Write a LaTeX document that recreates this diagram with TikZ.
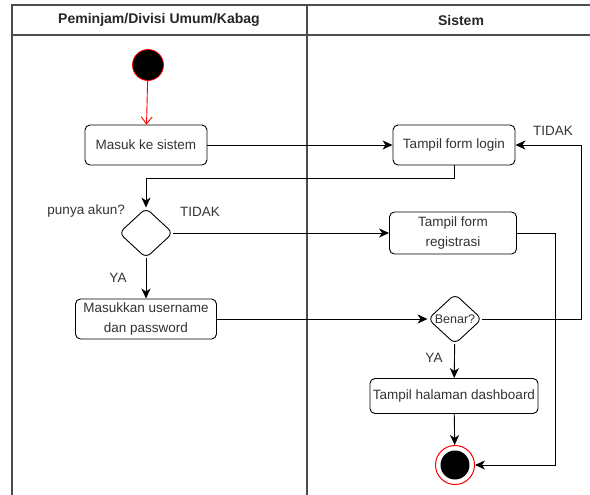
\documentclass[tikz,border=0pt]{standalone}
\usepackage{fontspec}
\setmainfont{Liberation Sans}
\usetikzlibrary{arrows.meta, shapes.geometric, positioning}

\tikzset{
    action/.style={draw, rounded corners=5pt, line width=0.9pt, fill=white,
        text=black!80, font=\fontsize{13.5}{20}\selectfont, align=center, inner sep=2pt},
    decision/.style={draw, diamond, rounded corners=6pt, line width=0.9pt, fill=white,
        inner sep=0pt, minimum width=54pt, minimum height=50pt},
    flow/.style={line width=0.9pt, -{Stealth[length=10pt, width=9pt, inset=3pt]}},
    tag/.style={text=black!80, font=\fontsize{13.5}{16}\selectfont, inner sep=1pt},
    lane/.style={draw=black!70, line width=1.4pt}
}

\begin{document}
\begin{tikzpicture}[x=1pt, y=-1pt]
    \useasboundingbox (0,0) rectangle (590,495);

    % Swimlanes
    \draw[lane] (12,495) -- (12,5) -- (600,5);
    \draw[lane] (12,35) -- (600,35);
    \draw[lane] (307,5) -- (307,495);
    \node[font=\bfseries\fontsize{14}{16}\selectfont, text=black!85] (laneA) at (159,20) {Peminjam/Divisi Umum/Kabag};
    \node[font=\bfseries\fontsize{14}{16}\selectfont, text=black!85] (laneB) at (461,20) {Sistem};

    % Start and end
    \node[circle, fill=black, draw=red, line width=0.8pt, minimum size=31pt, inner sep=0pt] (start) at (148,65) {};
    \node[circle, fill=white, draw=red, line width=1pt, minimum size=39pt, inner sep=0pt] (end) at (455,465) {};
    \node[circle, fill=black, minimum size=29pt, inner sep=0pt] (endcore) at (end) {};

    % Actions
    \node[action, minimum width=122pt, minimum height=40pt] (masuk) at (146,145) {Masuk ke sistem};
    \node[action, minimum width=122pt, minimum height=40pt] (login) at (454,145) {Tampil form login};
    \node[action, minimum width=127pt, minimum height=42pt] (regis) at (453,233) {Tampil form\\registrasi};
    \node[action, minimum width=141pt, minimum height=40pt] (masukkan) at (146,319) {Masukkan username\\dan password};
    \node[action, minimum width=168pt, minimum height=35pt] (dash) at (454,396) {Tampil halaman dashboard};

    % Decisions
    \node[decision] (akun) at (146,233) {};
    \node[decision, label={[tag, font=\fontsize{12.5}{15}\selectfont]center:Benar?}] (benar) at (455,319) {};

    % Flows
    \draw[line width=0.9pt, draw=red, -{Straight Barb[length=7pt, width=11pt]}] (start) -- (masuk);
    \draw[flow] (masuk) -- (login);
    \draw[flow] (login.south) -- ++(0,13) -| (akun.north);
    \draw[flow] (akun) -- (regis);
    \draw[flow] (akun) -- (masukkan);
    \draw[flow] (masukkan) -- (benar);
    \draw[flow] (benar.east) -- ++(99,0) |- (login.east);
    \draw[flow] (benar) -- (dash);
    \draw[flow] (dash) -- (end);
    \draw[flow] (regis.east) -- ++(38,0) |- (end.east);

    % Labels
    \node[tag, anchor=south east] (akunq) at (126,219) {punya akun?};
    \node[tag] (tidakA) at (200,212) {TIDAK};
    \node[tag] (yaA) at (118,278) {YA};
    \node[tag] (tidakB) at (553,131) {TIDAK};
    \node[tag] (yaB) at (434,358) {YA};
\end{tikzpicture}
\end{document}
